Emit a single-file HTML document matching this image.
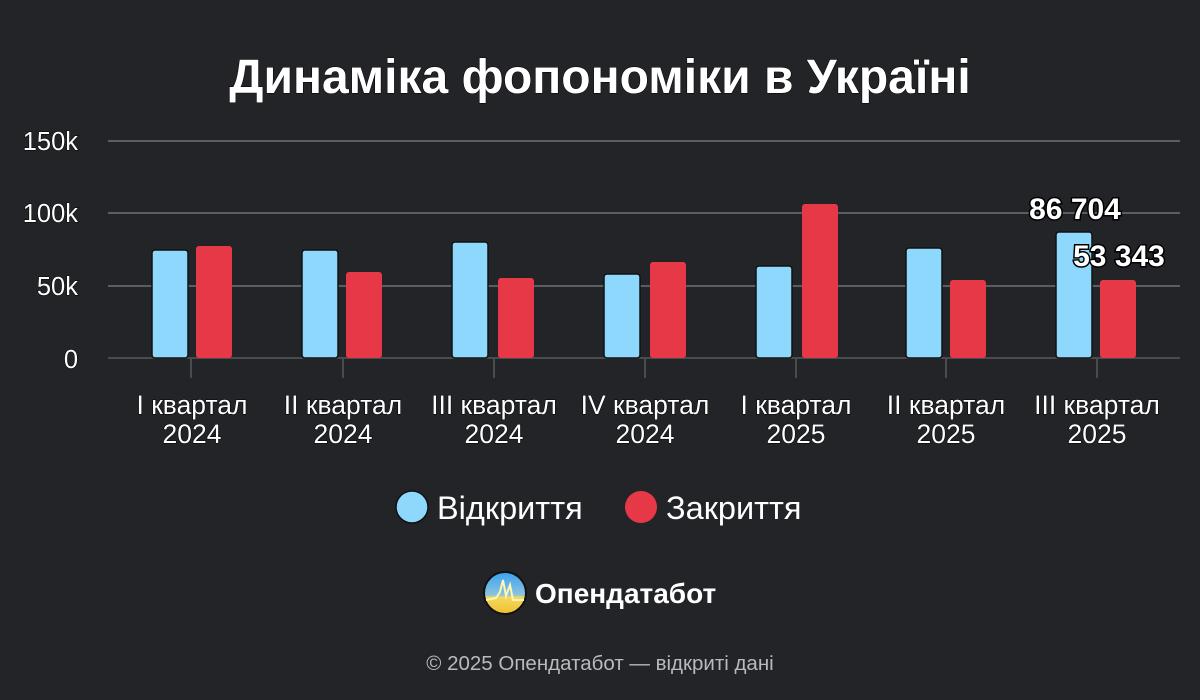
<!DOCTYPE html>
<html><head><meta charset="utf-8"><style>
html,body{margin:0;padding:0;background:#222428;}
svg{display:block}
text{font-family:"Liberation Sans","DejaVu Sans",sans-serif;}
</style></head><body>
<svg width="1200" height="700" viewBox="0 0 1200 700">
<rect width="1200" height="700" fill="#222428"/>
<text x="600" y="93" text-anchor="middle" font-size="48" font-weight="bold" fill="#fff" stroke="#000" stroke-width="1" paint-order="stroke">Динаміка фопономіки в Україні</text>
<g stroke="#5c5d60" stroke-width="2">
<line x1="108" y1="141" x2="1180" y2="141"/>
<line x1="108" y1="213" x2="1180" y2="213"/>
<line x1="108" y1="286" x2="1180" y2="286"/>
<line x1="108" y1="358" x2="1180" y2="358" stroke="#4a4b4e"/>
</g>
<g stroke="#4a4b4e" stroke-width="2">
<line x1="191" y1="358" x2="191" y2="378"/><line x1="343" y1="358" x2="343" y2="378"/><line x1="494" y1="358" x2="494" y2="378"/><line x1="645" y1="358" x2="645" y2="378"/><line x1="796" y1="358" x2="796" y2="378"/><line x1="946" y1="358" x2="946" y2="378"/><line x1="1097" y1="358" x2="1097" y2="378"/>
</g>
<g font-size="25.5" fill="#fff" text-anchor="end" stroke="#000" stroke-width="1" paint-order="stroke">
<text x="78" y="150">150k</text><text x="78" y="222">100k</text><text x="78" y="295">50k</text><text x="78" y="368">0</text>
</g>
<g stroke="#111" stroke-width="1.5">
<g fill="#8fd8fd">
<rect x="152" y="250" width="36" height="108" rx="3"/>
<rect x="302" y="250" width="36" height="108" rx="3"/>
<rect x="452" y="242" width="36" height="116" rx="3"/>
<rect x="604" y="274" width="36" height="84" rx="3"/>
<rect x="756" y="266" width="36" height="92" rx="3"/>
<rect x="906" y="248" width="36" height="110" rx="3"/>
<rect x="1056" y="232" width="36" height="126" rx="3"/>
</g>
<g fill="#e73848" stroke="none">
<rect x="196" y="246" width="36" height="112" rx="3"/>
<rect x="346" y="272" width="36" height="86" rx="3"/>
<rect x="498" y="278" width="36" height="80" rx="3"/>
<rect x="650" y="262" width="36" height="96" rx="3"/>
<rect x="802" y="204" width="36" height="154" rx="3"/>
<rect x="950" y="280" width="36" height="78" rx="3"/>
<rect x="1100" y="280" width="36" height="78" rx="3"/>
</g></g>
<g font-size="30" font-weight="bold" fill="#fff" stroke="#000" stroke-width="3" paint-order="stroke" text-anchor="middle">
<text x="1075" y="219">86 704</text><text x="1119" y="266">53 343</text>
</g>
<g font-size="26.5" fill="#fff" text-anchor="middle" stroke="#000" stroke-width="1" paint-order="stroke">
<text x="192" y="414">I квартал</text><text x="192" y="443">2024</text>
<text x="343" y="414">II квартал</text><text x="343" y="443">2024</text>
<text x="494" y="414">III квартал</text><text x="494" y="443">2024</text>
<text x="645" y="414">IV квартал</text><text x="645" y="443">2024</text>
<text x="796" y="414">I квартал</text><text x="796" y="443">2025</text>
<text x="946" y="414">II квартал</text><text x="946" y="443">2025</text>
<text x="1097" y="414">III квартал</text><text x="1097" y="443">2025</text>
</g>
<circle cx="412" cy="507" r="16" fill="#8fd8fd" stroke="#111" stroke-width="1.5"/>
<text x="437" y="519" font-size="32.5" fill="#fff">Відкриття</text>
<circle cx="641" cy="507" r="16" fill="#e73848"/>
<text x="666" y="519" font-size="32.5" fill="#fff">Закриття</text>
<defs><linearGradient id="lg" x1="0" y1="0" x2="0" y2="1"><stop offset="0" stop-color="#3aa0f0"/><stop offset="0.55" stop-color="#8cc4e0"/><stop offset="0.6" stop-color="#f4d860"/><stop offset="1" stop-color="#f0c030"/></linearGradient></defs>
<circle cx="505" cy="593" r="21" fill="url(#lg)" stroke="#111" stroke-width="2"/>
<polyline points="486,600 496,598 500,592 503,580 506,596 510,585 513,600 524,600" fill="none" stroke="#fff6b0" stroke-width="2"/>
<text x="535" y="603" font-size="28" font-weight="bold" fill="#fff">Опендатабот</text>
<text x="600" y="670" font-size="20.5" fill="#b9babc" text-anchor="middle">© 2025 Опендатабот — відкриті дані</text>
</svg>
</body></html>
